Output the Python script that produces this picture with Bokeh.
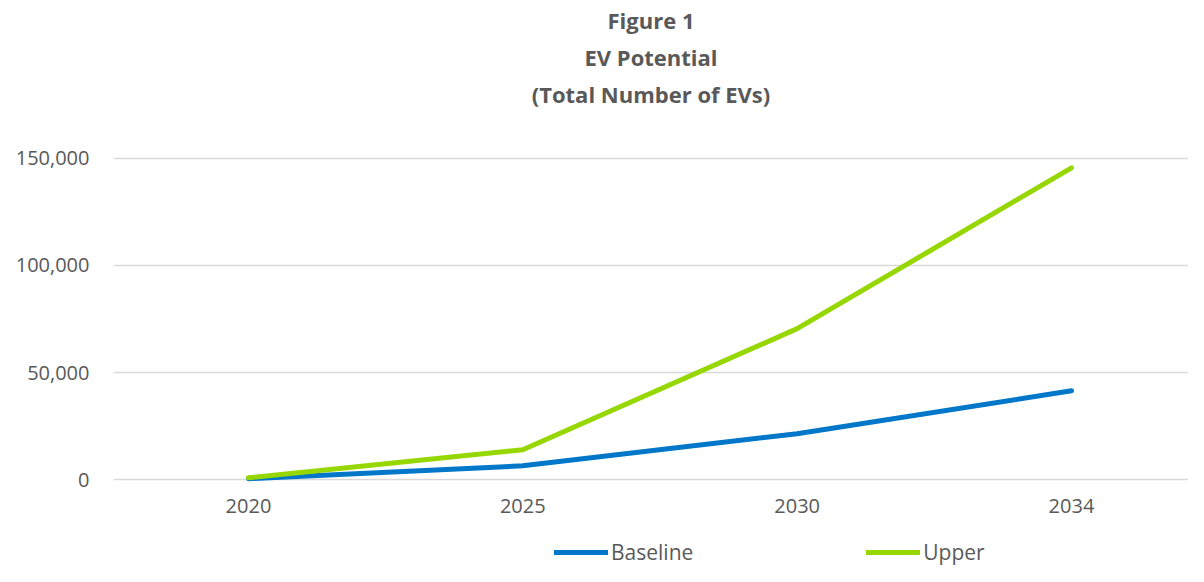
from bokeh.plotting import figure
from bokeh.layouts import column
from bokeh.models import Range1d, FixedTicker, Legend, LegendItem, Title, NumeralTickFormatter, ColumnDataSource
from bokeh.embed import file_html
from bokeh.resources import INLINE

years = ["2020", "2025", "2030", "2034"]
baseline = [500, 6500, 21500, 41500]
upper = [900, 14000, 70500, 145500]
y_ticks = [0, 50000, 100000, 150000]
title_lines = ["Figure 1", "EV Potential", "(Total Number of EVs)"]
series_names = ["Baseline", "Upper"]
series_cols = ["baseline", "upper"]
series_colors = ["#0077C8", "#97D700"]

FONT = "Open Sans"
GREY = "#595959"

x = list(range(len(years)))
src = ColumnDataSource(dict(x=x, baseline=baseline, upper=upper))

p = figure(width=1188, height=534, output_backend="svg", toolbar_location=None,
           x_range=Range1d(-0.492, 3.4265), y_range=Range1d(-5000, 155000),
           min_border_left=113, min_border_right=0, min_border_top=0, min_border_bottom=44)
p.outline_line_color = None
p.background_fill_color = "white"
p.border_fill_color = "white"

# spacer between the title block and the plot area
p.add_layout(Title(text=" ", text_font=FONT, text_font_size="22px", standoff=4), "above")
for t in reversed(title_lines):
    p.add_layout(Title(text=t, align="center", text_font=FONT, text_font_size="22px",
                       text_font_style="bold", text_color=GREY, standoff=5), "above")

for col, color in zip(series_cols, series_colors):
    p.line("x", col, source=src, line_color=color, line_width=5,
           line_cap="round", line_join="round")

p.xgrid.visible = False
p.ygrid.ticker = FixedTicker(ticks=y_ticks)
p.ygrid.grid_line_color = "#D9D9D9"
p.ygrid.grid_line_width = 1.5

p.yaxis.ticker = FixedTicker(ticks=y_ticks)
p.yaxis.formatter = NumeralTickFormatter(format="0,0")
p.xaxis.ticker = FixedTicker(ticks=x)
p.xaxis.major_label_overrides = {i: y for i, y in enumerate(years)}
for ax in (p.xaxis[0], p.yaxis[0]):
    ax.axis_line_color = None
    ax.major_tick_line_color = None
    ax.minor_tick_line_color = None
    ax.major_tick_in = 0
    ax.major_tick_out = 0
    ax.major_label_text_font = FONT
    ax.major_label_text_font_size = "20px"
    ax.major_label_text_color = GREY
p.yaxis.major_label_standoff = 24
p.xaxis.major_label_standoff = 8

# legend strip below the chart (proxy lines lie outside this strip's ranges)
p2 = figure(width=1188, height=32, output_backend="svg", toolbar_location=None,
            x_axis_type=None, y_axis_type=None,
            x_range=Range1d(-0.492, 3.4265), y_range=Range1d(-3e6, -2e6), min_border=0)
p2.grid.visible = False
p2.outline_line_color = None
p2.background_fill_color = "white"
p2.border_fill_color = "white"
items = []
for name, col, color in zip(series_names, series_cols, series_colors):
    r = p2.line("x", col, source=src, line_color=color, line_width=5, line_cap="round")
    items.append(LegendItem(label=name, renderers=[r]))
legend = Legend(items=items, orientation="horizontal", location=(441, 0),
                glyph_width=54, glyph_height=20, label_standoff=3, spacing=173,
                label_text_font=FONT, label_text_font_size="21px", label_text_color=GREY,
                border_line_color=None, background_fill_alpha=0, padding=0, margin=0)
p2.add_layout(legend)

open("out.html", "w").write(file_html(column(p, p2), INLINE))
